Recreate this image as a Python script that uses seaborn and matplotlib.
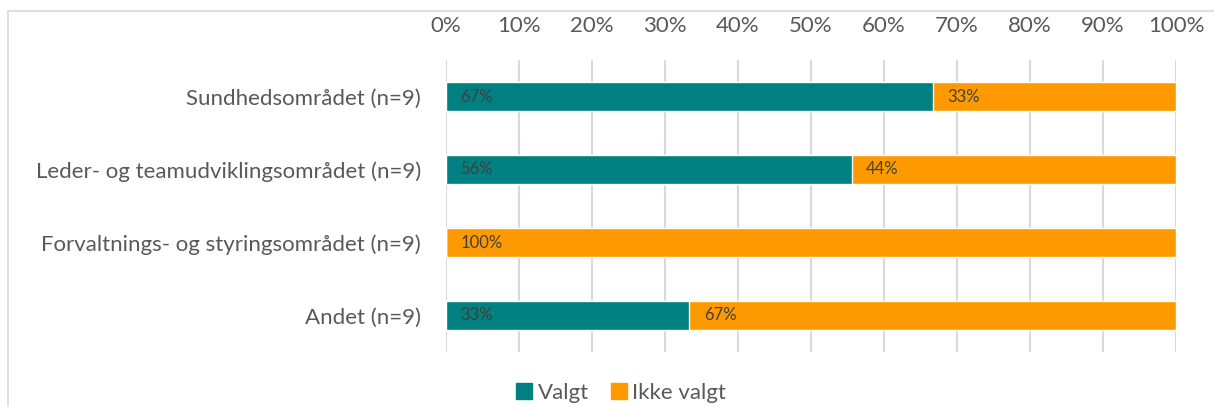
import matplotlib
matplotlib.use("Agg")
import matplotlib.pyplot as plt
import seaborn as sns
import pandas as pd
from matplotlib.lines import Line2D
from matplotlib.ticker import PercentFormatter

categories = ["Sundhedsområdet (n=9)", "Leder- og teamudviklingsområdet (n=9)",
              "Forvaltnings- og styringsområdet (n=9)", "Andet (n=9)"]
valgt = [66.67, 55.56, 0.0, 33.33]
ikke_valgt = [33.33, 44.44, 100.0, 66.67]
valgt_labels = ["67%", "56%", "", "33%"]
ikke_labels = ["33%", "44%", "100%", "67%"]
series_names = ["Valgt", "Ikke valgt"]

teal = "#008080"
orange = "#FF9900"
txt = "#595959"

sns.set_theme(style="white")
plt.rcParams['font.family'] = ['Lato', 'DejaVu Sans']

df = pd.DataFrame({"cat": categories, "valgt": valgt,
                   "total": [a + b for a, b in zip(valgt, ikke_valgt)]})

fig = plt.figure(figsize=(12.14, 4.07), dpi=100)
ax = fig.add_axes([446/1214, 1-352/407, (1176-446)/1214, (352-60)/407])

sns.barplot(data=df, y="cat", x="total", color=orange, width=0.41, ax=ax,
            saturation=1, zorder=2)
sns.barplot(data=df, y="cat", x="valgt", color=teal, width=0.41, ax=ax,
            saturation=1, zorder=3)

for i in range(len(categories)):
    if valgt_labels[i]:
        ax.text(2, i, valgt_labels[i], va="center", ha="left",
                fontsize=12, color="#404040", zorder=5)
    ax.text(valgt[i] + 2, i, ikke_labels[i], va="center", ha="left",
            fontsize=12, color="#404040", zorder=5)

ax.set_xlim(0, 100)
ax.set_ylim(3.5, -0.5)
ax.set_xticks(range(0, 101, 10))
ax.xaxis.set_major_formatter(PercentFormatter(decimals=0))
ax.xaxis.tick_top()
ax.tick_params(axis="x", length=0, pad=17, labelsize=16, labelcolor=txt)
ax.tick_params(axis="y", length=0, pad=18, labelsize=16, labelcolor=txt)
ax.set_xlabel("")
ax.set_ylabel("")
ax.grid(axis="x", color="#D9D9D9", linewidth=1.5, zorder=0)
ax.set_axisbelow(True)
for s in ax.spines.values():
    s.set_visible(False)

# outer chart border (left and top)
fig.add_artist(Line2D([8/1214, 8/1214], [0, 1-11/407], color="#D9D9D9", lw=1.2))
fig.add_artist(Line2D([8/1214, 1], [1-11/407, 1-11/407], color="#D9D9D9", lw=1.2))

handles = [Line2D([0], [0], marker="s", linestyle="", markersize=12,
                  markerfacecolor=c, markeredgecolor=c) for c in (teal, orange)]
fig.legend(handles, series_names, loc="center", bbox_to_anchor=(620/1214, 14/407),
           ncol=2, frameon=False, fontsize=16, labelcolor=txt,
           handletextpad=0.15, columnspacing=0.9, handlelength=0.9)

fig.savefig("out.png", dpi=100)
